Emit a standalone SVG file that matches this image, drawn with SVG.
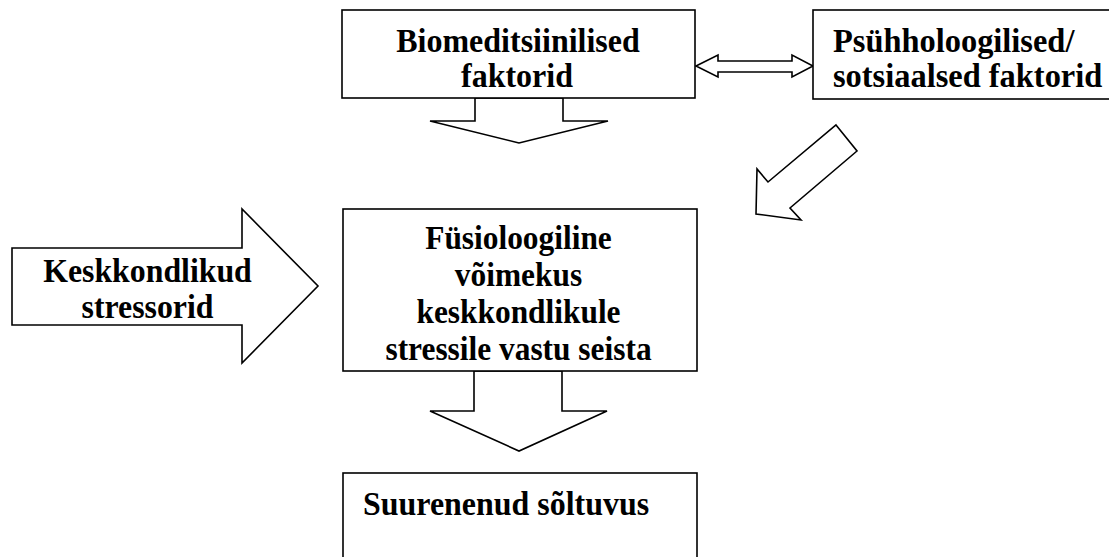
<svg xmlns="http://www.w3.org/2000/svg" width="1109" height="557" viewBox="0 0 1109 557">
<style>
.box{fill:#fff;stroke:#000;stroke-width:1.6}
.arr{fill:#fff;stroke:#000;stroke-width:1.6;stroke-linejoin:miter}
.t{font-family:"Liberation Serif","Times New Roman",serif;font-weight:bold;font-size:34.5px;fill:#000}
.c{text-anchor:middle}
</style>
<rect width="1109" height="557" fill="#fff"/>
<g id="connectors">
<polygon class="arr" points="696,66 718,55 718,61 792,61 792,55 813,66 792,77 792,72 718,72 718,77"/>
<polygon class="arr" points="475,98 475,121 430,121 519,143 608,121 563,121 563,98"/>
<polygon class="arr" points="836,125 857,151 790,208 801,220 756,214 757,169 768,182"/>
<polygon class="arr" points="474,371 474,411 430,411 519,451 607,411 562,411 562,371"/>
</g>
<g id="node-biomed">
<rect class="box" x="342" y="10" width="353" height="88"/>
<text class="t c" transform="translate(518,52) scale(0.928,1)">Biomeditsiinilised</text>
<text class="t c" transform="translate(517,87) scale(0.928,1)">faktorid</text>
</g>
<g id="node-psyh">
<rect class="box" x="813" y="10" width="310" height="89"/>
<text class="t" transform="translate(833,52) scale(0.94,1)">Psühholoogilised/</text>
<text class="t" transform="translate(833,87) scale(0.94,1)">sotsiaalsed faktorid</text>
</g>
<g id="node-kesk">
<polygon class="arr" points="12,248 242,248 242,209 318,286 242,363 242,325 12,325"/>
<text class="t c" transform="translate(147.5,282) scale(0.922,1)">Keskkondlikud</text>
<text class="t c" transform="translate(147.5,318) scale(0.922,1)">stressorid</text>
</g>
<g id="node-fys">
<rect class="box" x="343" y="209" width="354" height="162"/>
<text class="t c" transform="translate(518.5,249) scale(0.91,1)">Füsioloogiline</text>
<text class="t c" transform="translate(518.5,286) scale(0.91,1)">võimekus</text>
<text class="t c" transform="translate(518.5,323) scale(0.91,1)">keskkondlikule</text>
<text class="t c" transform="translate(518.5,360) scale(0.91,1)">stressile vastu seista</text>
</g>
<g id="node-suur">
<rect class="box" x="343" y="473" width="354" height="100"/>
<text class="t" transform="translate(363,515) scale(0.926,1)">Suurenenud sõltuvus</text>
</g>
</svg>
